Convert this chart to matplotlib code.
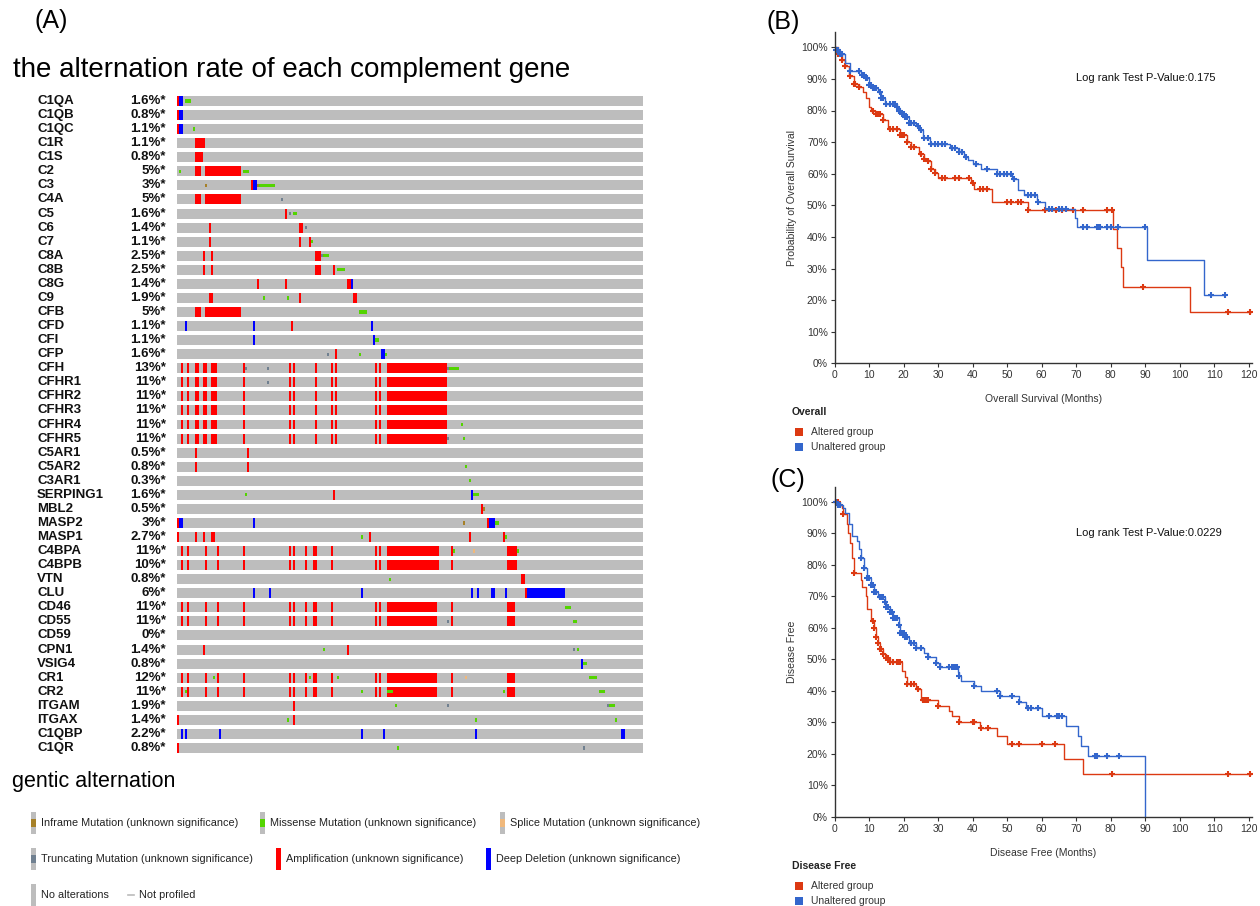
import numpy as np
import matplotlib
matplotlib.use('Agg')
import matplotlib.pyplot as plt
from matplotlib.patches import Rectangle
from matplotlib.transforms import blended_transform_factory

plt.rcParams['font.family'] = ['Liberation Sans', 'DejaVu Sans']

W, H = 1260, 906

# ---------------- (A) oncoprint data ----------------
genes = ['C1QA', 'C1QB', 'C1QC', 'C1R', 'C1S', 'C2', 'C3', 'C4A', 'C5', 'C6', 'C7',
         'C8A', 'C8B', 'C8G', 'C9', 'CFB', 'CFD', 'CFI', 'CFP', 'CFH', 'CFHR1', 'CFHR2',
         'CFHR3', 'CFHR4', 'CFHR5', 'C5AR1', 'C5AR2', 'C3AR1', 'SERPING1', 'MBL2', 'MASP2',
         'MASP1', 'C4BPA', 'C4BPB', 'VTN', 'CLU', 'CD46', 'CD55', 'CD59', 'CPN1', 'VSIG4',
         'CR1', 'CR2', 'ITGAM', 'ITGAX', 'C1QBP', 'C1QR']
rates = [1.6, 0.8, 1.1, 1.1, 0.8, 5, 3, 5, 1.6, 1.4, 1.1,
         2.5, 2.5, 1.4, 1.9, 5, 1.1, 1.1, 1.6, 13, 11, 11,
         11, 11, 11, 0.5, 0.8, 0.3, 1.6, 0.5, 3,
         2.7, 11, 10, 0.8, 6, 11, 11, 0, 1.4, 0.8,
         12, 11, 1.9, 1.4, 2.2, 0.8]
n_samples = 233

# altered sample columns, as (first, last) runs
cfh_amp = [(2, 2), (5, 5), (9, 10), (13, 14), (17, 19), (33, 33), (56, 56), (58, 58),
           (69, 69), (77, 77), (79, 79), (99, 99), (101, 101), (105, 134)]
c4bp_amp = [(2, 2), (5, 5), (14, 14), (20, 20), (33, 33), (56, 56), (58, 58), (64, 64),
            (68, 69), (77, 77), (99, 99), (101, 101), (105, 130), (137, 137), (165, 169)]
cd_amp = [(2, 2), (5, 5), (14, 14), (20, 20), (33, 33), (56, 56), (58, 58), (64, 64),
          (68, 69), (77, 77), (99, 99), (101, 101), (105, 129), (137, 137), (165, 168)]

amplification = {
    'C1QA': [(0, 0)], 'C1QB': [(0, 0)], 'C1QC': [(0, 0)], 'C1R': [(9, 13)], 'C1S': [(9, 12)],
    'C2': [(9, 11), (14, 31)], 'C3': [(37, 37)], 'C4A': [(9, 11), (14, 31)], 'C5': [(54, 54)],
    'C6': [(16, 16), (61, 62)], 'C7': [(16, 16), (61, 61), (66, 66)],
    'C8A': [(13, 13), (17, 17), (69, 71)], 'C8B': [(13, 13), (17, 17), (69, 71), (78, 78)],
    'C8G': [(40, 40), (54, 54), (85, 86)], 'C9': [(16, 17), (61, 61), (88, 89)],
    'CFB': [(9, 11), (14, 31)], 'CFD': [(57, 57)], 'CFP': [(79, 79)],
    'CFH': cfh_amp, 'CFHR1': cfh_amp, 'CFHR2': cfh_amp, 'CFHR3': cfh_amp, 'CFHR4': cfh_amp,
    'CFHR5': cfh_amp, 'C5AR1': [(9, 9), (35, 35)], 'C5AR2': [(9, 9), (35, 35)],
    'SERPING1': [(78, 78)], 'MBL2': [(152, 152)], 'MASP2': [(0, 0), (155, 155)],
    'MASP1': [(0, 0), (9, 9), (13, 13), (17, 18), (96, 96), (146, 146), (163, 163)],
    'C4BPA': c4bp_amp, 'C4BPB': c4bp_amp, 'VTN': [(172, 173)], 'CLU': [(174, 174)],
    'CD46': cd_amp, 'CD55': cd_amp, 'CPN1': [(13, 13), (85, 85)], 'CR1': cd_amp, 'CR2': cd_amp,
    'ITGAM': [(58, 58)], 'ITGAX': [(0, 0), (58, 58)], 'C1QR': [(0, 0)],
}
deep_deletion = {
    'C1QA': [(1, 2)], 'C1QB': [(1, 2)], 'C1QC': [(1, 2)], 'C3': [(38, 39)], 'C8G': [(87, 87)],
    'CFD': [(4, 4), (38, 38), (97, 97)], 'CFI': [(38, 38), (98, 98)], 'CFP': [(102, 103)],
    'SERPING1': [(147, 147)], 'MASP2': [(1, 2), (38, 38), (156, 158)],
    'CLU': [(38, 38), (46, 46), (92, 92), (147, 147), (150, 150), (157, 158), (164, 164), (175, 193)],
    'VSIG4': [(202, 202)],
    'C1QBP': [(2, 2), (4, 4), (21, 21), (92, 92), (103, 103), (149, 149), (222, 223)],
}
missense = {
    'C1QA': [(4, 6)], 'C1QC': [(8, 8)], 'C2': [(1, 1), (33, 35)], 'C3': [(41, 48)],
    'C5': [(58, 59)], 'C7': [(67, 67)], 'C8A': [(73, 75)], 'C8B': [(80, 83)],
    'C9': [(43, 43), (55, 55)], 'CFB': [(91, 94)], 'CFI': [(99, 100)], 'CFP': [(91, 91), (104, 104)],
    'CFH': [(136, 140)], 'CFHR4': [(142, 142)], 'CFHR5': [(143, 143)], 'C5AR2': [(144, 144)],
    'C3AR1': [(146, 146)], 'SERPING1': [(34, 34), (148, 150)], 'MASP2': [(159, 160)],
    'MASP1': [(92, 92), (164, 164)], 'C4BPA': [(138, 138), (170, 170)], 'VTN': [(106, 106)],
    'CD46': [(194, 196)], 'CD55': [(198, 199)], 'CPN1': [(73, 73), (200, 200)],
    'VSIG4': [(203, 204)], 'CR1': [(18, 18), (66, 66), (80, 80), (206, 209)],
    'CR2': [(4, 4), (92, 92), (105, 107), (163, 163), (211, 213)],
    'ITGAM': [(109, 109), (216, 218)], 'ITGAX': [(55, 55), (149, 149), (219, 219)],
    'C1QR': [(110, 110)],
}
truncating = {
    'C4A': [(52, 52)], 'C5': [(56, 56)], 'C6': [(64, 64)], 'C8A': [(72, 72)], 'CFP': [(75, 75)],
    'CFH': [(34, 34), (45, 45), (135, 135)], 'CFHR1': [(45, 45)], 'CFHR5': [(135, 135)],
    'CD55': [(135, 135)], 'CPN1': [(198, 198)], 'ITGAM': [(135, 135), (215, 215)],
    'C1QR': [(203, 203)],
}
inframe = {'C3': [(14, 14), (40, 40)], 'MBL2': [(153, 153)], 'MASP2': [(143, 143)]}
splice = {'C4BPA': [(148, 148)], 'CR1': [(144, 144)]}

# ---------------- (B) overall survival ----------------
os_alt_t = [0, 1, 2, 3, 4, 5.5, 7, 8.3, 9, 9.8, 10.5, 12, 14, 15.5, 19, 21, 22, 24.5, 26, 27,
            28, 29, 30, 39.5, 40.5, 45.5, 56, 80.8, 81.7, 83, 83.5, 103, 121]
os_alt_s = [1.0, 0.98, 0.96, 0.94, 0.91, 0.885, 0.875, 0.86, 0.84, 0.81, 0.80, 0.79, 0.77,
            0.742, 0.723, 0.701, 0.686, 0.662, 0.648, 0.639, 0.615, 0.602, 0.585, 0.569,
            0.552, 0.51, 0.484, 0.424, 0.364, 0.304, 0.243, 0.161, 0.161]
os_alt_cens = [1, 2, 3, 4.5, 5.5, 6, 7, 11, 12, 12.5, 13, 14, 16, 17, 18, 19, 19.5, 20, 21,
               22, 23, 25, 26, 27, 28, 29, 31, 32, 35, 36, 39, 40, 42, 43, 44, 50, 51, 53,
               54, 56, 61, 64, 66, 69, 72, 79, 80.5, 89.5, 114, 120.5]
os_un_t = [0, 0.5, 1.5, 3, 4.4, 7.5, 9, 10, 11, 12.5, 13.5, 14.5, 18, 18.5, 19.5, 20.5, 21.5,
           23.5, 24.5, 25.5, 27.5, 28, 33.5, 36, 37.5, 38.5, 40, 42.5, 47, 51.5, 53, 55, 58.5,
           61, 69.7, 70.2, 90.5, 107, 113]
os_un_s = [1.0, 0.99, 0.98, 0.95, 0.925, 0.912, 0.902, 0.881, 0.87, 0.86, 0.841, 0.82, 0.81,
           0.80, 0.79, 0.78, 0.76, 0.75, 0.738, 0.714, 0.701, 0.693, 0.681, 0.668, 0.654,
           0.642, 0.63, 0.616, 0.60, 0.583, 0.549, 0.532, 0.512, 0.488, 0.46, 0.432, 0.326,
           0.216, 0.216]
os_un_cens = [0.5, 1, 1.5, 2, 4.5, 7, 8, 8.5, 9, 9.5, 10, 10.5, 11, 11.5, 12, 13, 13.5, 14, 15,
              16, 17, 17.5, 18, 18.5, 19, 19.5, 20, 20.5, 21, 21.5, 22, 23, 24, 25, 26, 27, 28,
              29, 30, 31, 32, 34, 35, 36, 37, 38, 41, 44, 47, 48, 49, 50, 51, 52, 56, 57, 58,
              59, 62, 63, 65, 66, 67, 72, 73, 76, 76.5, 77, 79, 80, 82, 90, 109, 113]

# ---------------- (C) disease free ----------------
dfs_alt_t = [0, 1.5, 2, 2.5, 3.5, 3.8, 4.5, 5, 5.5, 7.5, 8, 9, 9.5, 10.5, 11.5, 12, 12.5, 13,
             14, 15, 16, 19.5, 20.5, 21, 23.5, 25, 30, 33, 34, 36, 42, 47, 50, 66.5, 72, 121]
dfs_alt_s = [1.0, 0.99, 0.98, 0.96, 0.93, 0.90, 0.87, 0.82, 0.775, 0.75, 0.73, 0.70, 0.66,
             0.62, 0.60, 0.57, 0.553, 0.533, 0.516, 0.505, 0.49, 0.463, 0.444, 0.421, 0.406,
             0.37, 0.353, 0.336, 0.319, 0.30, 0.281, 0.255, 0.23, 0.182, 0.137, 0.137]
dfs_alt_cens = [0.5, 1, 2.5, 5.5, 11, 11.5, 12, 12.5, 13, 13.5, 14, 15, 15.5, 16, 17, 18, 18.5,
                19, 21, 22, 23, 24, 25.5, 26, 26.5, 27, 30, 36, 40, 40.5, 42.5, 44.5, 51.5,
                53.5, 60, 63.8, 80.5, 114, 120.5]
dfs_un_t = [0, 1, 2.5, 3, 4, 5, 6.5, 7, 7.5, 8.5, 9.5, 10.5, 11.5, 12.5, 14.5, 15, 16, 17,
            18.5, 19, 20.5, 21.5, 23.5, 26, 27, 29.5, 30.5, 35.8, 36, 36.5, 40.5, 42.5, 48,
            53.5, 55.5, 60, 67, 70.5, 71.5, 73.5, 90]
dfs_un_s = [1.0, 0.99, 0.98, 0.965, 0.93, 0.89, 0.875, 0.85, 0.822, 0.788, 0.757, 0.735,
            0.714, 0.698, 0.683, 0.667, 0.651, 0.63, 0.608, 0.582, 0.571, 0.552, 0.534, 0.52,
            0.508, 0.487, 0.474, 0.46, 0.447, 0.432, 0.415, 0.40, 0.383, 0.363, 0.344, 0.32,
            0.288, 0.256, 0.224, 0.193, 0.0]
dfs_un_cens = [0.5, 1, 1.5, 7.5, 8.5, 9.5, 10, 10.5, 11, 11.5, 12, 13, 13.5, 14, 14.5, 15,
               15.5, 16, 16.5, 17, 17.5, 18, 18.5, 19, 19.5, 20, 20.5, 21, 22, 23, 23.5, 25,
               27, 29.5, 30.5, 33, 34, 34.5, 35, 35.5, 36, 40.5, 47, 48, 51.5, 53.5, 56, 57,
               59, 62, 64.5, 65, 66, 75.5, 76, 79, 82.5]

RED = '#dc3912'
BLUE = '#3366cc'
GRAY = '#bdbdbd'
COLORS = {'amp': '#ff0000', 'del': '#0000ff', 'mis': '#53d400',
          'trunc': '#708090', 'inframe': '#a68028', 'splice': '#f0b87b'}

fig = plt.figure(figsize=(W / 100, H / 100), dpi=100)


def px_axes(x0, y0, x1, y1):
    return fig.add_axes([x0 / W, 1 - y1 / H, (x1 - x0) / W, (y1 - y0) / H])


ov = fig.add_axes([0, 0, 1, 1])
ov.set_xlim(0, W)
ov.set_ylim(H, 0)
ov.axis('off')

# ---------------- oncoprint ----------------
ax = px_axes(177, 94, 643, 755)
ax.set_xlim(-0.5, n_samples - 0.5)
ax.set_ylim(len(genes) - 0.5, -0.5)
ax.axis('off')

bw = 0.7
bh = 0.71


def expand(runs):
    return [c for a, b in runs for c in range(a, b + 1)]


def draw_cells(cols, row, color, frac=1.0):
    if len(cols) == 0:
        return
    x = np.array(cols) - 0.45
    ax.bar(x, bh * frac, bottom=row - bh * frac / 2, width=bw, align='edge',
           color=color, edgecolor='none', linewidth=0)


for i, g in enumerate(genes):
    cna = set(expand(amplification.get(g, []) + deep_deletion.get(g, [])))
    draw_cells([c for c in range(n_samples) if c not in cna], i, GRAY)
    draw_cells(expand(amplification.get(g, [])), i, COLORS['amp'])
    draw_cells(expand(deep_deletion.get(g, [])), i, COLORS['del'])
    for key, table in [('mis', missense), ('trunc', truncating),
                       ('inframe', inframe), ('splice', splice)]:
        draw_cells(expand(table.get(g, [])), i, COLORS[key], frac=1 / 3)

tr = blended_transform_factory(fig.transFigure, ax.transData)
for i, (g, r) in enumerate(zip(genes, rates)):
    ax.text(37 / W, i, g, transform=tr, ha='left', va='center',
            fontsize=9.5, fontweight='bold', color='#111111')
    ax.text(166 / W, i, f'{r:g}%*', transform=tr, ha='right', va='center',
            fontsize=9.5, fontweight='bold', color='#111111')

ov.text(34, 21, '(A)', fontsize=18, va='center', ha='left')
ov.text(13, 70, 'the alternation rate of each complement gene', fontsize=20,
        va='center', ha='left')
ov.text(12, 782, 'gentic alternation', fontsize=15.5, va='center', ha='left')

# legend of alteration types
legend_items = [
    (33, 823, 'inframe', 'Inframe Mutation (unknown significance)'),
    (262, 823, 'mis', 'Missense Mutation (unknown significance)'),
    (502, 823, 'splice', 'Splice Mutation (unknown significance)'),
    (33, 859, 'trunc', 'Truncating Mutation (unknown significance)'),
    (278, 859, 'amp', 'Amplification (unknown significance)'),
    (488, 859, 'del', 'Deep Deletion (unknown significance)'),
    (33, 895, None, 'No alterations'),
]
for x, y, key, label in legend_items:
    if key in ('amp', 'del'):
        ov.add_patch(Rectangle((x - 2.5, y - 11), 5, 22, color=COLORS[key], lw=0))
    else:
        ov.add_patch(Rectangle((x - 2, y - 11), 4.5, 22, color=GRAY, lw=0))
        if key is not None:
            ov.add_patch(Rectangle((x - 2, y - 4), 4.5, 8, color=COLORS[key], lw=0))
    ov.text(x + 8, y, label, fontsize=7.8, va='center', ha='left', color='#222222')
ov.plot([128, 134], [895, 895], color='#bbbbbb', lw=1.2)
ov.text(139, 895, 'Not profiled', fontsize=7.8, va='center', ha='left', color='#222222')


# ---------------- KM panels ----------------
def step_value(t, s, x):
    idx = np.searchsorted(np.array(t), np.array(x), side='right') - 1
    return np.array(s)[idx]


def km_panel(y_top, y_zero, curves, ylabel, xlabel, pval, title, letter, letter_xy):
    pxm = (1248.7 - 834.7) / 120.0
    ppx = y_zero - y_top
    axk = px_axes(834.7, y_top - 15, 834.7 + 121 * pxm, y_zero)
    axk.set_facecolor('none')
    axk.set_xlim(0, 121)
    axk.set_ylim(0, 1 + 15 / ppx)
    for t, s, cens, col in curves:
        axk.step(t, s, where='post', color=col, lw=1.0)
        axk.plot(cens, step_value(t, s, cens), ls='none', marker='+', ms=5, mew=1.5,
                 color=col, clip_on=False)
    axk.set_xticks(np.arange(0, 121, 10))
    yt = np.arange(0, 101, 10)
    axk.set_yticks(yt / 100)
    axk.set_yticklabels([f'{v}%' for v in yt])
    for side in ['top', 'right']:
        axk.spines[side].set_visible(False)
    for side in ['left', 'bottom']:
        axk.spines[side].set_color('#333333')
        axk.spines[side].set_linewidth(1.0)
    axk.tick_params(direction='out', length=3, width=0.8, labelsize=7.5,
                    color='#333333', labelcolor='#333333', pad=2)
    axk.set_ylabel(ylabel, fontsize=7.5, color='#333333', labelpad=3)
    axk.set_xlabel(xlabel, fontsize=7.5, color='#333333', labelpad=10)
    ov.text(1076, y_top + 31, pval, fontsize=8, va='center', ha='left', color='#111111')
    ov.text(letter_xy[0], letter_xy[1], letter, fontsize=18, va='center', ha='left')
    ov.text(792, y_zero + 49, title, fontsize=7.5, fontweight='bold', va='center',
            ha='left', color='#222222')
    for k, (lab, col) in enumerate([('Altered group', RED), ('Unaltered group', BLUE)]):
        yy = y_zero + 69 + 15 * k
        ov.add_patch(Rectangle((795, yy - 4), 8, 8, color=col, lw=0))
        ov.text(811, yy, lab, fontsize=7.5, va='center', ha='left', color='#333333')


km_panel(47.3, 363.3,
         [(os_alt_t, os_alt_s, os_alt_cens, RED), (os_un_t, os_un_s, os_un_cens, BLUE)],
         'Probability of Overall Survival', 'Overall Survival (Months)',
         'Log rank Test P-Value:0.175', 'Overall', '(B)', (766, 22))
km_panel(501.7, 816.7,
         [(dfs_alt_t, dfs_alt_s, dfs_alt_cens, RED), (dfs_un_t, dfs_un_s, dfs_un_cens, BLUE)],
         'Disease Free', 'Disease Free (Months)',
         'Log rank Test P-Value:0.0229', 'Disease Free', '(C)', (771, 480))

fig.savefig('out.png', dpi=100)
